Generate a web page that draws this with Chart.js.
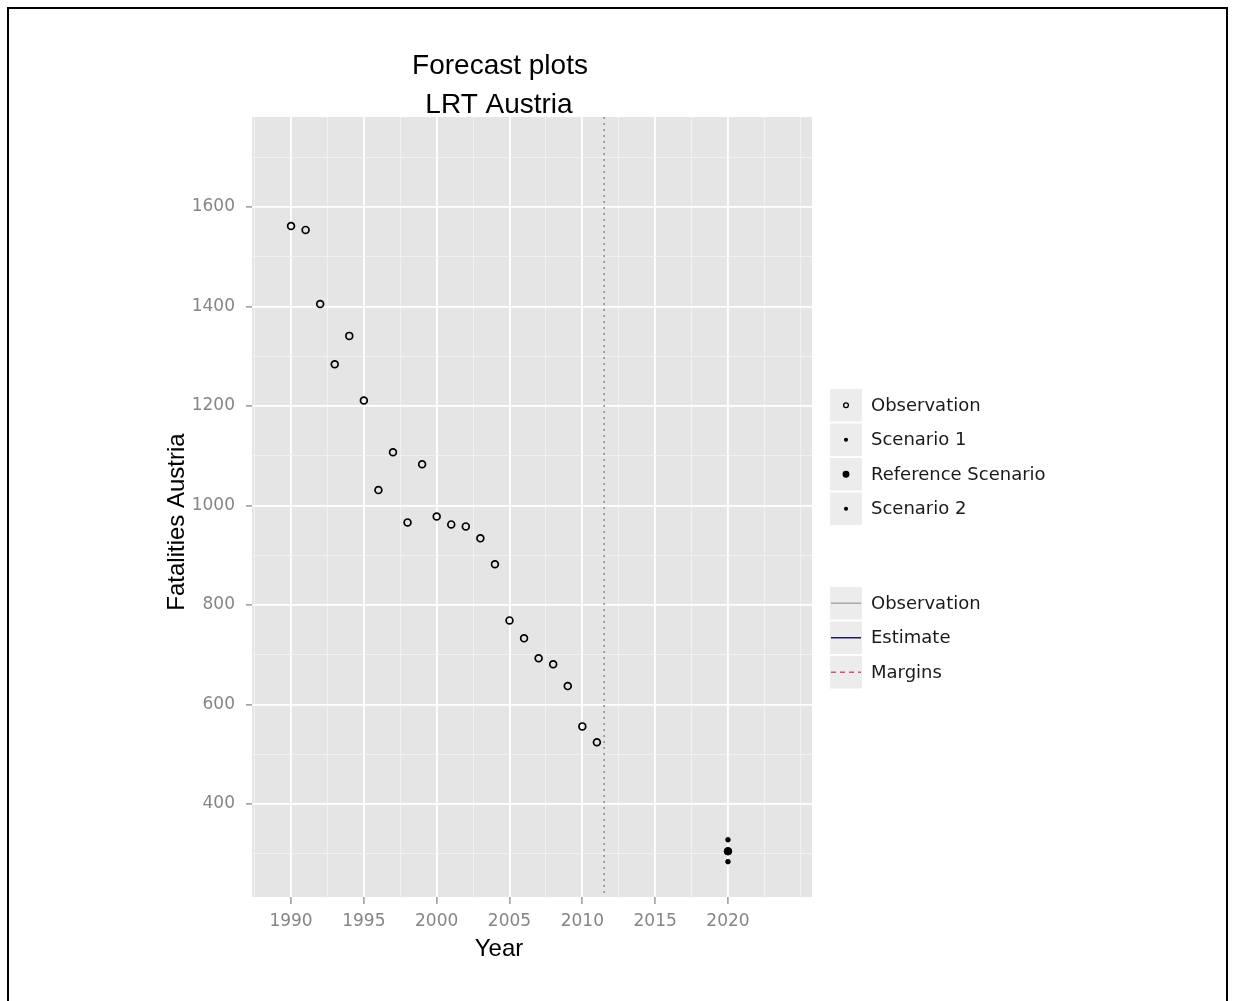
<!DOCTYPE html>
<html>
<head>
<meta charset="utf-8">
<script src="https://cdn.jsdelivr.net/npm/chart.js@4.4.0/dist/chart.umd.min.js"></script>
<style>
    body { margin: 0; background: #ffffff; }
    canvas { display: block; }
</style>
</head>
<body>
<canvas id="myChart" width="1233" height="1001"></canvas>
<script>
// data
const years = [1990, 1991, 1992, 1993, 1994, 1995, 1996, 1997, 1998, 1999, 2000,
    2001, 2002, 2003, 2004, 2005, 2006, 2007, 2008, 2009, 2010, 2011];
const observed = [1562, 1554, 1405, 1284, 1341, 1211, 1031, 1107, 966, 1083, 978,
    962, 958, 934, 882, 769, 733, 693, 681, 637, 556, 524];
const forecastYear = [2020];
const scenario1 = [328];
const referenceScenario = [305];
const scenario2 = [284];
const forecastStart = 2011.5;

const xTickLabels = [1990, 1995, 2000, 2005, 2010, 2015, 2020];
const yTickLabels = [400, 600, 800, 1000, 1200, 1400, 1600];
const xMinorGrid = [1987.5, 1992.5, 1997.5, 2002.5, 2007.5, 2012.5, 2017.5, 2022.5, 2025];
const yMinorGrid = [300, 500, 700, 900, 1100, 1300, 1500, 1700];

const pointLegend = ['Observation', 'Scenario 1', 'Reference Scenario', 'Scenario 2'];
const lineLegend = ['Observation', 'Estimate', 'Margins'];

const lineLegendStyle = [
    { color: '#a8a8a8', dash: [] },
    { color: '#1c1c66', dash: [] },
    { color: '#e0506a', dash: [5, 4] }
];

function toPoints(xs, ys) {
    var pts = [];
    for (var i = 0; i < ys.length; i++) {
        pts.push({ x: xs[i], y: ys[i] });
    }
    return pts;
}

function isMajor(list, v) {
    return list.indexOf(v) !== -1;
}

const panelPlugin = {
    id: 'panel',
    beforeDraw(chart) {
        const ctx = chart.ctx;
        const a = chart.chartArea;
        ctx.save();
        ctx.fillStyle = '#ffffff';
        ctx.fillRect(0, 0, chart.width, chart.height);
        ctx.fillStyle = '#e5e5e5';
        ctx.fillRect(a.left, a.top, a.right - a.left, a.bottom - a.top);
        ctx.restore();
    },
    beforeDatasetsDraw(chart) {
        const ctx = chart.ctx;
        const a = chart.chartArea;
        const x = chart.scales.x.getPixelForValue(forecastStart);
        ctx.save();
        ctx.strokeStyle = '#8c8c8c';
        ctx.lineWidth = 1.5;
        ctx.setLineDash([2, 4]);
        ctx.beginPath();
        ctx.moveTo(x, a.top);
        ctx.lineTo(x, a.bottom);
        ctx.stroke();
        ctx.restore();
    },
    afterDraw(chart) {
        const ctx = chart.ctx;
        ctx.save();

        // outer frame
        ctx.strokeStyle = '#000000';
        ctx.lineWidth = 2;
        ctx.beginPath();
        ctx.moveTo(8, 1001);
        ctx.lineTo(8, 8);
        ctx.lineTo(1227, 8);
        ctx.lineTo(1227, 1001);
        ctx.stroke();

        // titles
        ctx.fillStyle = '#000000';
        ctx.textAlign = 'center';
        ctx.textBaseline = 'alphabetic';
        ctx.font = '28px "Liberation Sans", Arial, sans-serif';
        ctx.fillText('Forecast plots', 500, 74);
        ctx.fillText('LRT Austria', 499, 113);
        ctx.font = '24px "Liberation Sans", Arial, sans-serif';
        ctx.fillText('Year', 499, 956);
        ctx.save();
        ctx.translate(184, 522);
        ctx.rotate(-Math.PI / 2);
        ctx.fillText('Fatalities Austria', 0, 0);
        ctx.restore();

        // legend, points
        const kx = 830, kw = 32, kh = 34.5;
        let top = 388;
        const ds = chart.data.datasets;
        ctx.font = '18px "DejaVu Sans", sans-serif';
        ctx.textAlign = 'left';
        ctx.textBaseline = 'middle';
        for (let i = 0; i < pointLegend.length; i++) {
            const cy = top + i * kh + kh / 2;
            ctx.fillStyle = '#ececec';
            ctx.fillRect(kx, top + i * kh + 1, kw, kh - 2);
            const d = ds[i];
            ctx.beginPath();
            ctx.arc(kx + kw / 2, cy, d.legendRadius, 0, Math.PI * 2);
            if (d.backgroundColor !== 'rgba(0,0,0,0)') {
                ctx.fillStyle = d.backgroundColor;
                ctx.fill();
            }
            ctx.lineWidth = 1.3;
            ctx.strokeStyle = d.borderColor;
            ctx.stroke();
            ctx.fillStyle = '#1a1a1a';
            ctx.fillText(pointLegend[i], 871, cy + 1);
        }

        // legend, lines
        top = 586;
        for (let i = 0; i < lineLegend.length; i++) {
            const cy = top + i * kh + kh / 2;
            ctx.fillStyle = '#ececec';
            ctx.fillRect(kx, top + i * kh + 1, kw, kh - 2);
            ctx.strokeStyle = lineLegendStyle[i].color;
            ctx.lineWidth = 1.5;
            ctx.setLineDash(lineLegendStyle[i].dash);
            ctx.beginPath();
            ctx.moveTo(kx + 1, cy);
            ctx.lineTo(kx + kw - 1, cy);
            ctx.stroke();
            ctx.setLineDash([]);
            ctx.fillStyle = '#1a1a1a';
            ctx.fillText(lineLegend[i], 871, cy + 1);
        }
        ctx.restore();
    }
};

function gridWidth(list) {
    return function (c) {
        return c.tick && isMajor(list, c.tick.value) ? 1.8 : 0.8;
    };
}
function gridColor(list) {
    return function (c) {
        return c.tick && isMajor(list, c.tick.value) ? '#ffffff' : '#f4f4f4';
    };
}
function tickColor(list) {
    return function (c) {
        return c.tick && isMajor(list, c.tick.value) ? '#7f7f7f' : 'rgba(0,0,0,0)';
    };
}

const CHART = document.getElementById('myChart');
let wykres = new Chart(CHART, {
    type: 'scatter',
    data: {
        datasets: [
            {
                label: pointLegend[0],
                data: toPoints(years, observed),
                backgroundColor: 'rgba(0,0,0,0)',
                borderColor: '#000000',
                borderWidth: 1.7,
                pointRadius: 3.4,
                legendRadius: 2.4
            },
            {
                label: pointLegend[1],
                data: toPoints(forecastYear, scenario1),
                backgroundColor: '#000000',
                borderColor: '#000000',
                borderWidth: 1,
                pointRadius: 2.3,
                legendRadius: 1.4
            },
            {
                label: pointLegend[2],
                data: toPoints(forecastYear, referenceScenario),
                backgroundColor: '#000000',
                borderColor: '#000000',
                borderWidth: 1,
                pointRadius: 3.8,
                legendRadius: 2.8
            },
            {
                label: pointLegend[3],
                data: toPoints(forecastYear, scenario2),
                backgroundColor: '#000000',
                borderColor: '#000000',
                borderWidth: 1,
                pointRadius: 2.3,
                legendRadius: 1.4
            }
        ]
    },
    options: {
        responsive: false,
        animation: false,
        layout: {
            padding: { left: 182, right: 421, top: 117, bottom: 74 }
        },
        plugins: {
            legend: { display: false },
            title: { display: false },
            tooltip: { enabled: false }
        },
        scales: {
            x: {
                type: 'linear',
                min: 1987.32,
                max: 2025.77,
                afterBuildTicks: function (s) {
                    s.ticks = xTickLabels.concat(xMinorGrid).sort(function (a, b) { return a - b; })
                        .map(function (v) { return { value: v }; });
                },
                afterFit: function (s) { s.height = 30; },
                border: { display: false },
                grid: {
                    color: gridColor(xTickLabels),
                    lineWidth: gridWidth(xTickLabels),
                    tickColor: tickColor(xTickLabels),
                    tickLength: 7,
                    tickWidth: 1.2
                },
                ticks: {
                    autoSkip: false,
                    maxRotation: 0,
                    padding: 7,
                    color: '#858585',
                    font: { family: '"DejaVu Sans", sans-serif', size: 17 },
                    callback: function (v) { return isMajor(xTickLabels, v) ? String(v) : ''; }
                }
            },
            y: {
                type: 'linear',
                min: 213,
                max: 1781,
                afterBuildTicks: function (s) {
                    s.ticks = yTickLabels.concat(yMinorGrid).sort(function (a, b) { return a - b; })
                        .map(function (v) { return { value: v }; });
                },
                afterFit: function (s) { s.width = 70; },
                border: { display: false },
                grid: {
                    color: gridColor(yTickLabels),
                    lineWidth: gridWidth(yTickLabels),
                    tickColor: tickColor(yTickLabels),
                    tickLength: 6,
                    tickWidth: 1.2
                },
                ticks: {
                    autoSkip: false,
                    padding: 11,
                    color: '#858585',
                    font: { family: '"DejaVu Sans", sans-serif', size: 17 },
                    callback: function (v) { return isMajor(yTickLabels, v) ? String(v) : ''; }
                }
            }
        }
    },
    plugins: [panelPlugin]
});
</script>
</body>
</html>
